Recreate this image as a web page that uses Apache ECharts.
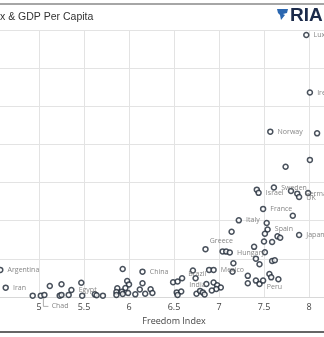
<!DOCTYPE html>
<html><head><meta charset="utf-8">
<script src="https://cdn.jsdelivr.net/npm/echarts@6/dist/echarts.min.js"></script>
<style>html,body{margin:0;padding:0;background:#fff}#c{width:324px;height:337px}</style>
</head><body><div id="c"></div>
<script>
// Countries (empty name = unlabelled point)
const countries = ["Luxembourg","Ireland","Norway","","","","Sweden","","Israel","","Germany","UK","",
"France","","Italy","","","Spain","","","","Japan","","",
"Greece","","","Hungary","","","","","","","","","Mexico","","Brazil","","","","","Peru","","","","",
"","","India","","","","","","","","","","","","","",
"","China","","","","","","","","","","","","","","","","",
"Argentina","Iran","","","Chad","","","","","","Egypt","","","",""];
const freedomIndex = [7.97,8.01,7.57,8.09,8.01,7.74,7.61,7.42,7.44,7.80,7.87,7.89,7.99,
7.49,7.82,7.22,7.53,7.14,7.54,7.51,7.65,7.68,7.89,7.50,7.59,
6.85,7.04,7.08,7.12,7.39,7.51,7.41,7.45,7.59,7.62,7.16,6.89,6.94,7.15,6.71,6.74,7.32,7.32,7.41,7.45,7.49,7.56,7.58,7.66,
6.49,6.54,6.59,6.53,6.58,6.54,6.75,6.79,6.82,6.84,6.86,6.94,6.98,7.02,6.97,6.92,
5.93,6.15,5.98,6.00,6.15,5.87,5.96,5.86,5.92,5.86,5.93,5.99,6.07,6.12,6.18,6.24,6.26,5.71,
4.57,4.63,4.93,5.02,5.06,5.12,5.25,5.23,5.25,5.33,5.36,5.47,5.48,5.62,5.64];
const gdpPerCapita = [137.4,107.2,86.7,85.8,71.9,68.3,57.4,56.3,54.6,55.6,54.2,52.4,54.5,
46.2,42.6,40.2,38.8,34.2,35.4,33.2,31.8,31.1,32.5,29.1,28.8,
25.1,23.9,23.8,23.3,26.3,23.5,20.1,17.2,18.9,19.3,17.7,14.2,14.2,13.2,13.9,9.8,11.1,7.2,8.6,6.8,8.6,12.1,10.3,9.3,
7.7,8.1,9.8,2.4,2.9,1.1,1.7,3.2,2.4,1.3,6.8,7.6,6.1,5.0,4.2,3.4,
14.7,13.3,8.4,6.6,7.2,4.6,4.7,2.6,2.8,1.1,1.6,2.1,1.4,3.9,1.7,4.1,2.1,0.7,
14.2,4.9,0.7,0.7,1.1,5.8,6.7,0.7,1.1,1.1,3.7,7.5,0.7,1.4,0.9];
const xTicks = [5, 5.5, 6, 6.5, 7, 7.5, 8];

// label style tweaks (pixel nudges only)
const labelOffsets = {Greece:[-3,-8], Brazil:[-12,3.5], India:[0,7], Peru:[0,2.5], Chad:[0,11.5], UK:[0,1]};

const data = countries.map((n,i)=>{
  const item = {name:n, value:[freedomIndex[i], gdpPerCapita[i]]};
  if (labelOffsets[n]) item.label = {offset: labelOffsets[n]};
  return item;
});

const chart = echarts.init(document.getElementById('c'), null, {renderer:'canvas'});
chart.setOption({
  animation:false,
  backgroundColor:'#fff',
  grid:{left:-6, right:-30, top:30, bottom:40, containLabel:false, outerBoundsMode:'none'},
  xAxis:{type:'value', min:4.5, max:8.5, interval:0.5,
    name:'Freedom Index', nameLocation:'middle', nameGap:18,
    nameTextStyle:{fontSize:9, color:'#444', fontFamily:'Open Sans'},
    axisLine:{show:true, lineStyle:{color:'#d8d8d8'}}, axisTick:{show:false},
    axisLabel:{fontSize:9, color:'#444', margin:6, fontFamily:'Open Sans', showMinLabel:false, showMaxLabel:false,
      formatter:v=> xTicks.includes(v) ? String(v) : ''},
    splitLine:{show:true, lineStyle:{color:'#e3e3e3'}}},
  yAxis:{type:'value', min:0, max:140, interval:20,
    axisLabel:{show:false}, axisLine:{show:false}, axisTick:{show:false},
    splitLine:{show:true, lineStyle:{color:'#e3e3e3'}}},
  series:[{
    type:'scatter', data:data, symbol:'circle', symbolSize:5,
    itemStyle:{color:'#fff', borderColor:'#1c2633', borderWidth:1.5},
    label:{show:true, position:'right', distance:4, fontSize:7, color:'#666', fontFamily:'Open Sans',
      formatter:p=>p.name},
    emphasis:{disabled:true}
  }]
});

// leader line for Chad, drawn through the chart's own scale
const ci = countries.indexOf('Chad');
const p = chart.convertToPixel({gridIndex:0}, [freedomIndex[ci], gdpPerCapita[ci]]);
chart.setOption({graphic:[
  {type:'line', shape:{x1:0,y1:4,x2:324,y2:4}, style:{stroke:'#888', lineWidth:1.5}},
  {type:'line', shape:{x1:0,y1:332,x2:324,y2:332}, style:{stroke:'#666', lineWidth:2}},
  {type:'text', left:0, top:12, style:{text:'x & GDP Per Capita', fontSize:10.5, fill:'#333', fontFamily:'Liberation Sans'}},
  {type:'polygon', shape:{points:[[277,9],[288,9],[287,13],[283,14],[285,15],[281,20],[280,15],[278,13]]}, style:{fill:'#2a66b0'}},
  {type:'text', x:290, y:6, style:{text:'RIA', fontSize:19, fontWeight:'bold', fill:'#1b2a4a', fontFamily:'Liberation Sans'}},
  {type:'polyline', shape:{points:[[p[0]-1,p[1]+3],[p[0]-1,p[1]+11.5],[p[0]+4,p[1]+11.5]]}, style:{stroke:'#999', lineWidth:0.8, fill:null}}
]});
</script></body></html>
